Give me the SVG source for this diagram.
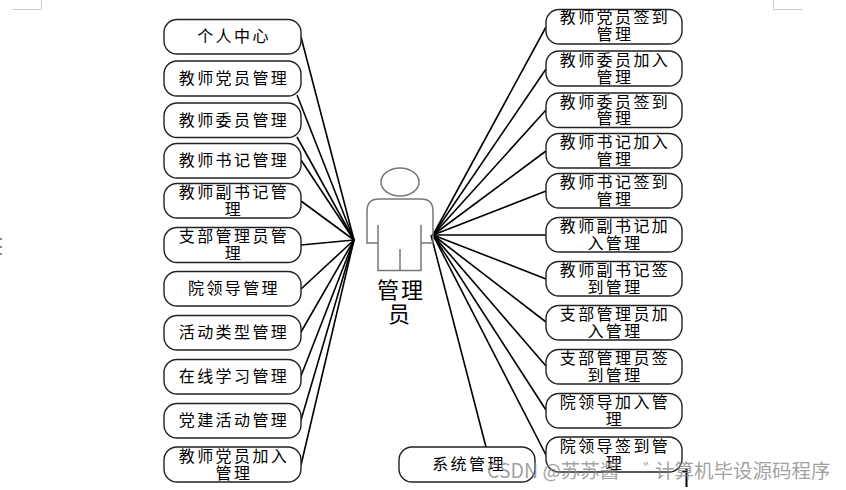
<svg xmlns="http://www.w3.org/2000/svg" width="846" height="490" viewBox="0 0 846 490">
<style>
.b{fill:#fff;stroke:#222;stroke-width:1.4}
.t{font-family:"Noto Sans CJK SC","Liberation Sans",sans-serif;font-size:16px;letter-spacing:2.4px;text-anchor:middle;fill:#000}
.c line{stroke:#000;stroke-width:1.6}
.p{fill:none;stroke:#777;stroke-width:1.5}
.m{fill:none;stroke:#ccc;stroke-width:1}
</style>
<rect width="846" height="490" fill="#fff"/>
<path class="m" d="M12.500 9.500H41.500V0M773.500 0V9.500H803"/>
<path d="M1 238v2M1 246v2M1 253v2" stroke="#666" stroke-width="1.500"/>
<g id="connectors" class="c">
<line x1="301" y1="37" x2="354" y2="240"/><line x1="297" y1="95" x2="354" y2="240"/><line x1="297" y1="137" x2="354" y2="240"/><line x1="301" y1="160" x2="354" y2="240"/><line x1="301" y1="201" x2="354" y2="240"/><line x1="301" y1="245" x2="354" y2="240"/><line x1="301" y1="289" x2="354" y2="240"/><line x1="301" y1="332" x2="354" y2="240"/><line x1="301" y1="376" x2="354" y2="240"/><line x1="301" y1="420" x2="354" y2="240"/><line x1="301" y1="465" x2="354" y2="240"/>
<line x1="546" y1="27" x2="433" y2="235"/><line x1="546" y1="69" x2="433" y2="235"/><line x1="546" y1="110" x2="433" y2="235"/><line x1="546" y1="151" x2="433" y2="235"/><line x1="546" y1="191" x2="433" y2="235"/><line x1="546" y1="235" x2="433" y2="235"/><line x1="546" y1="279" x2="433" y2="235"/><line x1="546" y1="322" x2="433" y2="235"/><line x1="546" y1="366" x2="433" y2="235"/><line x1="546" y1="410" x2="433" y2="235"/><line x1="546" y1="455" x2="433" y2="235"/><line x1="486" y1="447" x2="431" y2="235"/>
</g>
<g id="actor">
<ellipse class="p" cx="400" cy="182" rx="19" ry="14"/>
<path class="p" d="M378 243H367V211Q367 199 379 199H421Q433 199 433 211V243H421M378 225V270.500H421V225M400 249V270.500"/>
<text font-family="'Noto Sans CJK SC',sans-serif" font-size="22" letter-spacing="2" text-anchor="middle" fill="#000"><tspan x="401" y="298">管理</tspan><tspan x="400" y="322">员</tspan></text>
</g>
<g id="l1"><rect class="b" x="164" y="19.500" width="137" height="34.500" rx="13"/><text class="t" x="234" y="42">个人中心</text></g>
<g id="l2"><rect class="b" x="164" y="61" width="137" height="35" rx="13"/><text class="t" x="234" y="84">教师党员管理</text></g>
<g id="l3"><rect class="b" x="164" y="103" width="137" height="34.500" rx="13"/><text class="t" x="234" y="126">教师委员管理</text></g>
<g id="l4"><rect class="b" x="164" y="143.500" width="137" height="34.500" rx="13"/><text class="t" x="234" y="166">教师书记管理</text></g>
<g id="l5"><rect class="b" x="164" y="183.500" width="137" height="34.500" rx="13"/><text class="t"><tspan x="234" y="198">教师副书记管</tspan><tspan x="234" y="215">理</tspan></text></g>
<g id="l6"><rect class="b" x="164" y="227.500" width="137" height="35" rx="13"/><text class="t"><tspan x="234" y="242">支部管理员管</tspan><tspan x="234" y="259">理</tspan></text></g>
<g id="l7"><rect class="b" x="164" y="271.500" width="137" height="34.500" rx="13"/><text class="t" x="234" y="294">院领导管理</text></g>
<g id="l8"><rect class="b" x="164" y="315.500" width="137" height="34.500" rx="13"/><text class="t" x="234" y="338">活动类型管理</text></g>
<g id="l9"><rect class="b" x="164" y="359.500" width="137" height="34.500" rx="13"/><text class="t" x="234" y="382">在线学习管理</text></g>
<g id="l10"><rect class="b" x="164" y="403.500" width="137" height="34.500" rx="13"/><text class="t" x="234" y="426">党建活动管理</text></g>
<g id="l11"><rect class="b" x="164" y="447" width="137" height="35" rx="13"/><text class="t"><tspan x="234" y="462">教师党员加入</tspan><tspan x="234" y="479">管理</tspan></text></g>
<g id="r1"><rect class="b" x="546" y="9.500" width="136" height="34.500" rx="13"/><text class="t"><tspan x="615" y="23">教师党员签到</tspan><tspan x="615" y="40">管理</tspan></text></g>
<g id="r2"><rect class="b" x="546" y="51" width="136" height="35" rx="13"/><text class="t"><tspan x="615" y="66">教师委员加入</tspan><tspan x="615" y="83">管理</tspan></text></g>
<g id="r3"><rect class="b" x="546" y="93" width="136" height="34.500" rx="13"/><text class="t"><tspan x="615" y="108">教师委员签到</tspan><tspan x="615" y="124">管理</tspan></text></g>
<g id="r4"><rect class="b" x="546" y="133.500" width="136" height="34.500" rx="13"/><text class="t"><tspan x="615" y="148">教师书记加入</tspan><tspan x="615" y="165">管理</tspan></text></g>
<g id="r5"><rect class="b" x="546" y="173.500" width="136" height="34.500" rx="13"/><text class="t"><tspan x="615" y="188">教师书记签到</tspan><tspan x="615" y="205">管理</tspan></text></g>
<g id="r6"><rect class="b" x="546" y="217.500" width="136" height="34.500" rx="13"/><text class="t"><tspan x="615" y="232">教师副书记加</tspan><tspan x="615" y="249">入管理</tspan></text></g>
<g id="r7"><rect class="b" x="546" y="261.500" width="136" height="34.500" rx="13"/><text class="t"><tspan x="615" y="276">教师副书记签</tspan><tspan x="615" y="293">到管理</tspan></text></g>
<g id="r8"><rect class="b" x="546" y="305.500" width="136" height="34.500" rx="13"/><text class="t"><tspan x="615" y="320">支部管理员加</tspan><tspan x="615" y="337">入管理</tspan></text></g>
<g id="r9"><rect class="b" x="546" y="349.500" width="136" height="34.500" rx="13"/><text class="t"><tspan x="615" y="364">支部管理员签</tspan><tspan x="615" y="381">到管理</tspan></text></g>
<g id="r10"><rect class="b" x="546" y="393.500" width="136" height="34.500" rx="13"/><text class="t"><tspan x="615" y="408">院领导加入管</tspan><tspan x="615" y="425">理</tspan></text></g>
<g id="r11"><rect class="b" x="546" y="437" width="136" height="35" rx="13"/><text class="t"><tspan x="615" y="452">院领导签到管</tspan><tspan x="615" y="469">理</tspan></text></g>
<g id="sys"><rect class="b" x="399" y="447" width="136" height="35" rx="13"/><text class="t" x="469" y="470">系统管理</text></g>
<path d="M682 471.500H686" stroke="#222" stroke-width="1.400"/>
<path d="M686.500 469V487" stroke="#000" stroke-width="2"/>
<text font-family="'Noto Sans CJK SC','Liberation Sans',sans-serif" font-size="19.500" fill="#888" fill-opacity=".8"><tspan x="487" y="478">CSDN @苏苏酱</tspan><tspan x="643" y="478">゛</tspan><tspan x="655" y="478">计算机毕设源码程序</tspan></text>
</svg>
